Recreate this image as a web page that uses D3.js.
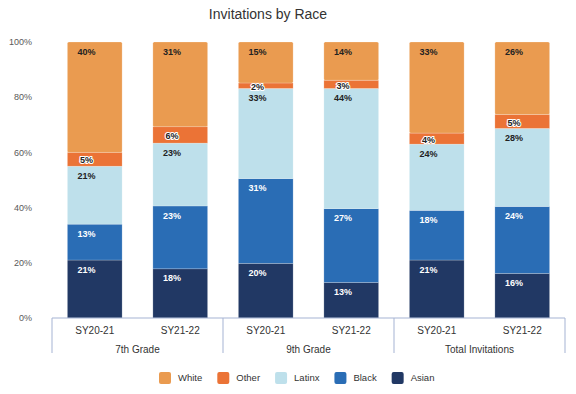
<!DOCTYPE html>
<html>
<head>
<meta charset="utf-8">
<script src="https://cdn.jsdelivr.net/npm/d3@7"></script>
<style>
  body { margin: 0; background: #fff; }
  text { font-family: "Liberation Sans", Arial, sans-serif; }
</style>
</head>
<body>
<div class="canvas"></div>
<script>
// chart data
const groups = ['7th Grade', '9th Grade', 'Total Invitations'];
const years = ['SY20-21', 'SY21-22'];
const races = ['White', 'Other', 'Latinx', 'Black', 'Asian'];
const stackOrder = ['Asian', 'Black', 'Latinx', 'Other', 'White'];

const white  = [40, 31, 15, 14, 33, 26];
const other  = [5, 6, 2, 3, 4, 5];
const latinx = [21, 23, 33, 44, 24, 28];
const black  = [13, 23, 31, 27, 18, 24];
const asian  = [21, 18, 20, 13, 21, 16];

const yTicks = [0, 0.2, 0.4, 0.6, 0.8, 1];

const colour = d3.scaleOrdinal()
    .domain(races)
    .range(['#EA9B50', '#EB7336', '#BEE0EB', '#2A6DB5', '#213864']);

const width = 576, height = 394;
const svg = d3.select('.canvas')
    .append('svg')
    .attr('width', width)
    .attr('height', height);

// build rows
const rows = [];
groups.forEach((g, gi) => {
    years.forEach((yr, yi) => {
        const i = gi * years.length + yi;
        rows.push({
            key: g + '|' + yr, group: g, year: yr,
            White: white[i], Other: other[i], Latinx: latinx[i], Black: black[i], Asian: asian[i]
        });
    });
});

const x = d3.scaleBand()
    .domain(rows.map(d => d.key))
    .range([52, 565])
    .paddingInner(0.36)
    .paddingOuter(0.18);

const y = d3.scaleLinear()
    .domain([0, 1])
    .range([318, 42]);

// title
svg.append('text')
    .attr('x', 268)
    .attr('y', 19)
    .attr('text-anchor', 'middle')
    .attr('fill', '#333')
    .style('font-size', '14px')
    .text('Invitations by Race');

// y axis labels
svg.append('g')
    .selectAll('text')
    .data(yTicks)
    .enter()
    .append('text')
    .attr('x', 32)
    .attr('y', d => y(d))
    .attr('dy', '0.35em')
    .attr('text-anchor', 'end')
    .attr('fill', '#595959')
    .style('font-size', '9px')
    .text(d3.format('.0%'));

const stack = d3.stack()
    .keys(stackOrder)
    .offset(d3.stackOffsetExpand);
const series = stack(rows);

const layers = svg.append('g')
    .selectAll('g')
    .data(series)
    .enter()
    .append('g')
    .attr('fill', d => colour(d.key));

layers.selectAll('rect')
    .data(d => d.map(p => ({ p, key: d.key })))
    .enter()
    .append('rect')
    .attr('x', d => x(d.p.data.key))
    .attr('y', d => y(d.p[1]))
    .attr('width', x.bandwidth())
    .attr('height', d => y(d.p[0]) - y(d.p[1]))
    .attr('rx', d => d.key === 'White' ? 1.5 : 0)
    .attr('stroke', '#fff')
    .attr('stroke-opacity', 0.35)
    .attr('stroke-width', 0.6);

// data labels
const labels = [];
series.forEach(s => {
    s.forEach(p => {
        const top = y(p[1]), h = y(p[0]) - y(p[1]);
        labels.push({
            key: s.key,
            x: x(p.data.key) + x.bandwidth() * 0.35,
            y: s.key === 'Other' ? top + h / 2 + 1 : top + 9.5,
            text: p.data[s.key] + '%'
        });
    });
});

svg.append('g')
    .selectAll('text')
    .data(labels)
    .enter()
    .append('text')
    .attr('x', d => d.x)
    .attr('y', d => d.y)
    .attr('dy', '0.35em')
    .attr('text-anchor', 'middle')
    .attr('fill', d => (d.key === 'Black' || d.key === 'Asian') ? '#fff' : '#222')
    .attr('stroke', d => d.key === 'Other' ? '#fff' : 'none')
    .attr('stroke-width', 2.2)
    .attr('stroke-linejoin', 'round')
    .style('paint-order', 'stroke')
    .style('font-size', '9px')
    .style('font-weight', 'bold')
    .text(d => d.text);

// x axis
const axisColour = '#A5B3D3';
const axis = svg.append('g');
axis.append('line')
    .attr('x1', 52).attr('x2', 565)
    .attr('y1', 318).attr('y2', 318)
    .attr('stroke', axisColour);

const step = x.step();
const groupEdges = d3.range(groups.length + 1).map(i => 52 + i * step * years.length);
axis.selectAll('.sep')
    .data(groupEdges)
    .enter()
    .append('line')
    .attr('x1', d => d).attr('x2', d => d)
    .attr('y1', 318).attr('y2', 353)
    .attr('stroke', axisColour);

axis.selectAll('.cat')
    .data(rows)
    .enter()
    .append('text')
    .attr('x', d => x(d.key) + x.bandwidth() / 2)
    .attr('y', 330)
    .attr('dy', '0.35em')
    .attr('text-anchor', 'middle')
    .attr('fill', '#333')
    .style('font-size', '10px')
    .text(d => d.year);

axis.selectAll('.grp')
    .data(groups)
    .enter()
    .append('text')
    .attr('x', (d, i) => (groupEdges[i] + groupEdges[i + 1]) / 2)
    .attr('y', 349)
    .attr('dy', '0.35em')
    .attr('text-anchor', 'middle')
    .attr('fill', '#333')
    .style('font-size', '10px')
    .text(d => d);

// legend
const legend = svg.append('g');
let lx = 0;
races.forEach(r => {
    const item = legend.append('g').attr('transform', `translate(${lx}, 0)`);
    item.append('rect')
        .attr('width', 12).attr('height', 12)
        .attr('y', -6)
        .attr('rx', 2)
        .attr('fill', colour(r));
    const t = item.append('text')
        .attr('x', 19)
        .attr('dy', '0.35em')
        .attr('fill', '#333')
        .style('font-size', '9.5px')
        .text(r);
    lx += 19 + t.node().getComputedTextLength() + 15;
});
legend.attr('transform', `translate(159, 378)`);
</script>
</body>
</html>
